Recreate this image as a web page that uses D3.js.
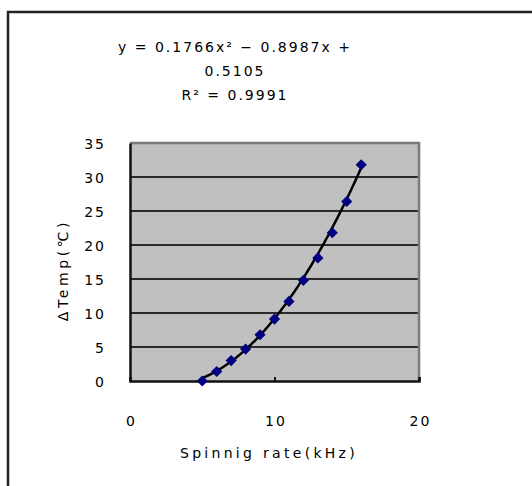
<!DOCTYPE html>
<html><head><meta charset="utf-8">
<script src="https://cdn.jsdelivr.net/npm/d3@7/dist/d3.min.js"></script>
<style>
body{margin:0;background:#fff;}
text{font-family:"DejaVu Sans",sans-serif;fill:#000;}
</style></head>
<body>
<svg id="chart" width="532" height="486"></svg>
<script>
// data
const rate = [5, 6, 7, 8, 9, 10, 11, 12, 13, 14, 15, 16];
const dTemp = [0, 1.4, 3.0, 4.7, 6.8, 9.1, 11.7, 14.8, 18.1, 21.8, 26.4, 31.8];
const trendCoef = [0.1766, -0.8987, 0.5105]; // a, b, c
const eqLines = ["y = 0.1766x\u00B2 \u2212 0.8987x +", "0.5105", "R\u00B2 = 0.9991"];
const yTicks = [0, 5, 10, 15, 20, 25, 30, 35];
const xTicks = [0, 10, 20];
const xTitle = "Spinnig rate(kHz)";
const yTitle = "\u0394Temp(\u2103)";

const svg = d3.select("#chart");
const L = 130, R = 419, T = 143, B = 381;
const x = d3.scaleLinear().domain([0, 20]).range([L, R]);
const y = d3.scaleLinear().domain([0, 35]).range([B, T]);

// outer frame
svg.append("rect").attr("x", 8).attr("y", 12).attr("width", 600).attr("height", 600)
  .attr("fill", "none").attr("stroke", "#222").attr("stroke-width", 2.5);

// plot area
svg.append("rect").attr("x", L).attr("y", T).attr("width", R - L).attr("height", B - T)
  .attr("fill", "#c0c0c0");

// gridlines
svg.append("g").selectAll("line").data(yTicks.filter(d => d > 0 && d < 35)).join("line")
  .attr("x1", L).attr("x2", R).attr("y1", d => y(d)).attr("y2", d => y(d))
  .attr("stroke", "#2a2a2a").attr("stroke-width", 2);

// top/right border
svg.append("path").attr("d", `M${L},${T}H${R}V${B}`).attr("fill", "none")
  .attr("stroke", "#7a7a7a").attr("stroke-width", 2.5);

// axes
const yAxis = d3.axisLeft(y).tickValues(yTicks).tickSize(0).tickPadding(24);
const gy = svg.append("g").attr("transform", `translate(${L},0)`).call(yAxis);
const xAxis = d3.axisBottom(x).tickValues(xTicks).tickSize(-4).tickPadding(35);
const gx = svg.append("g").attr("transform", `translate(0,${B})`).call(xAxis);
[gx, gy].forEach(g => {
  g.attr("font-family", null).attr("font-size", null);
  g.select(".domain").attr("stroke", "#111").attr("stroke-width", 2.5);
  g.selectAll(".tick line").attr("stroke", "#111").attr("stroke-width", 2);
  g.selectAll("text").style("font-size", "14px").style("letter-spacing", "2px").attr("fill", "#000");
});
gy.selectAll("text").attr("dy", "0.36em");
gx.selectAll("text").attr("dx", "1px");

// trendline
const [a, b, c] = trendCoef;
const xs = d3.range(5, 16.001, 0.1);
const line = d3.line().x(d => x(d)).y(d => y(a * d * d + b * d + c)).curve(d3.curveBasis);
svg.append("path").datum(xs).attr("d", line).attr("fill", "none")
  .attr("stroke", "#000").attr("stroke-width", 2.5);

// markers
const diamond = d3.symbol().type(d3.symbolDiamond2).size(80);
svg.append("g").selectAll("path").data(rate.map((r, i) => [r, dTemp[i]])).join("path")
  .attr("d", diamond)
  .attr("transform", d => `translate(${x(d[0])},${y(d[1])})`)
  .attr("fill", "#000080");

// equation label
svg.append("g").selectAll("text").data(eqLines).join("text")
  .attr("x", 235).attr("y", (d, i) => 52 + i * 24)
  .attr("text-anchor", "middle")
  .style("font-size", "14px").style("letter-spacing", "2px")
  .text(d => d);

// axis titles
svg.append("text").attr("x", 269).attr("y", 458).attr("text-anchor", "middle")
  .style("font-size", "14px").style("letter-spacing", "3.3px").text(xTitle);
svg.append("text").attr("transform", "translate(68,270) rotate(-90)").attr("text-anchor", "middle")
  .style("font-size", "14px").style("letter-spacing", "3.6px").text(yTitle);
</script>
</body></html>
